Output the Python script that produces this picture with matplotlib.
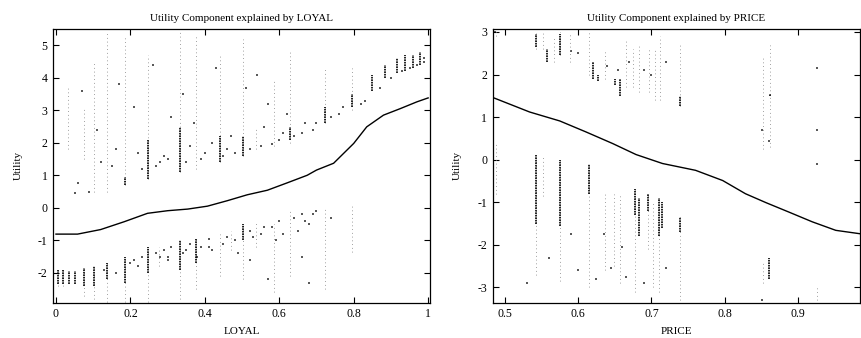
import matplotlib
matplotlib.use("Agg")
import matplotlib.pyplot as plt

plt.rcParams['font.family'] = ['Liberation Serif', 'DejaVu Serif']
plt.rcParams['axes.unicode_minus'] = False

# ---------------- LOYAL panel data ----------------
loyal_curve_x = [0.0, 0.058, 0.12, 0.183, 0.246, 0.30, 0.354, 0.407, 0.461, 0.514,
                 0.568, 0.622, 0.675, 0.70, 0.746, 0.80, 0.835, 0.88, 0.925, 0.97, 1.0]
loyal_curve_y = [-0.81, -0.81, -0.67, -0.43, -0.17, -0.09, -0.04, 0.05, 0.22, 0.40,
                 0.54, 0.77, 1.0, 1.16, 1.37, 1.98, 2.49, 2.85, 3.05, 3.26, 3.38]

# vertical streaks of observations: x, low, high (sparse part)
loyal_sparse_x  = [0.031, 0.076, 0.103, 0.138, 0.185, 0.248, 0.332, 0.375, 0.44, 0.503, 0.537, 0.585, 0.63, 0.724, 0.795,
                   0.005, 0.02, 0.076, 0.103, 0.138, 0.185, 0.248, 0.276, 0.332, 0.375, 0.44, 0.47, 0.503, 0.537, 0.585, 0.63, 0.724, 0.795]
loyal_sparse_lo = [1.8, 1.5, 0.5, 0.5, 0.7, 0.9, 1.1, 1.2, 1.4, 1.6, 1.8, 1.9, 2.0, 2.6, 3.0,
                   -2.4, -2.4, -2.7, -2.8, -2.9, -2.9, -2.9, -1.8, -2.8, -2.5, -2.1, -1.3, -2.2, -1.2, -2.6, -2.1, -2.5, -1.35]
loyal_sparse_hi = [3.7, 3.1, 4.5, 5.4, 5.3, 4.7, 5.4, 5.3, 4.7, 5.2, 2.5, 3.9, 4.8, 4.3, 4.3,
                   -1.9, -1.9, -1.85, -1.8, -1.7, -1.5, -1.2, -1.2, -1.0, -0.95, -0.8, -0.7, -0.5, -0.4, -0.5, -0.1, 0.0, 0.1]
# dense cores
loyal_dense_x  = [0.185, 0.248, 0.332, 0.44, 0.503, 0.63, 0.724, 0.795, 0.849, 0.885, 0.916, 0.938, 0.96, 0.979,
                  0.005, 0.02, 0.035, 0.05, 0.076, 0.103, 0.138, 0.185, 0.248, 0.332, 0.375, 0.503]
loyal_dense_lo = [0.7, 0.9, 1.1, 1.4, 1.6, 2.1, 2.6, 3.1, 3.6, 4.0, 4.15, 4.2, 4.3, 4.4,
                  -2.35, -2.35, -2.35, -2.35, -2.4, -2.4, -2.2, -2.3, -2.0, -1.9, -1.7, -1.0]
loyal_dense_hi = [0.94, 2.1, 2.5, 2.2, 2.2, 2.5, 3.1, 3.5, 4.1, 4.4, 4.6, 4.7, 4.7, 4.8,
                  -1.9, -1.9, -1.95, -1.95, -1.85, -1.8, -1.7, -1.5, -1.2, -1.0, -0.95, -0.5]
# scattered single observations
loyal_pts_x = [0.05, 0.06, 0.09, 0.12, 0.16, 0.21, 0.23, 0.27, 0.29, 0.30, 0.31, 0.35, 0.36, 0.39, 0.40,
               0.42, 0.45, 0.46, 0.48, 0.52, 0.55, 0.56, 0.58, 0.60, 0.61, 0.64, 0.66, 0.67, 0.69, 0.70,
               0.74, 0.76, 0.77, 0.82, 0.83, 0.87, 0.90, 0.93, 0.95, 0.97, 0.99, 0.99,
               0.21, 0.23, 0.27, 0.29, 0.30, 0.31, 0.35, 0.36, 0.39, 0.41, 0.42, 0.46, 0.48, 0.52, 0.55,
               0.56, 0.58, 0.60, 0.61, 0.64, 0.66, 0.67, 0.69, 0.70, 0.74, 0.52, 0.57, 0.66, 0.68,
               0.07, 0.11, 0.15, 0.17, 0.22, 0.26, 0.28, 0.34, 0.37, 0.43, 0.47, 0.51, 0.54, 0.57, 0.62,
               0.13, 0.16, 0.2, 0.22, 0.28, 0.3, 0.34, 0.38, 0.41, 0.45, 0.49, 0.53, 0.59, 0.65, 0.68]
loyal_pts_y = [0.45, 0.75, 0.5, 1.4, 1.8, 3.1, 1.2, 1.3, 1.6, 1.5, 2.8, 1.4, 1.9, 1.5, 1.7,
               2.0, 1.6, 1.8, 1.7, 1.8, 1.9, 2.5, 1.95, 2.1, 2.3, 2.2, 2.3, 2.6, 2.4, 2.6,
               2.8, 2.9, 3.1, 3.2, 3.3, 3.7, 4.0, 4.2, 4.3, 4.4, 4.5, 4.6,
               -1.6, -1.5, -1.4, -1.3, -1.5, -1.2, -1.3, -1.1, -1.2, -0.95, -1.3, -0.9, -1.0, -0.7, -0.8,
               -0.6, -0.6, -0.4, -0.8, -0.3, -0.2, -0.4, -0.2, -0.1, -0.3, -1.6, -2.2, -1.5, -2.3,
               3.6, 2.4, 1.3, 3.8, 1.7, 4.4, 1.4, 3.5, 2.6, 4.3, 2.2, 3.7, 4.1, 3.2, 2.9,
               -1.9, -2.0, -1.7, -1.8, -1.5, -1.6, -1.4, -1.5, -1.2, -1.1, -1.4, -0.9, -1.0, -0.7, -0.5]

# ---------------- PRICE panel data ----------------
price_curve_x = [0.484, 0.534, 0.575, 0.611, 0.647, 0.679, 0.715, 0.76, 0.797, 0.828,
                 0.856, 0.887, 0.919, 0.951, 0.984]
price_curve_y = [1.46, 1.12, 0.91, 0.65, 0.38, 0.12, -0.09, -0.25, -0.49, -0.80,
                 -1.01, -1.23, -1.46, -1.66, -1.74]

price_sparse_x  = [0.488, 0.543, 0.552, 0.567, 0.575, 0.589, 0.615, 0.637, 0.665, 0.675, 0.683, 0.696, 0.705, 0.711, 0.739, 0.852, 0.861,
                   0.488, 0.543, 0.552, 0.575, 0.615, 0.637, 0.649, 0.657, 0.678, 0.695, 0.702, 0.71, 0.739, 0.852, 0.925]
price_sparse_lo = [2.9, 2.6, 2.6, 2.3, 2.45, 2.3, 2.0, 1.9, 1.7, 1.7, 1.6, 1.6, 1.4, 1.4, 1.25, 0.25, 0.3,
                   -0.8, -2.7, -0.85, -2.85, -3.0, -2.6, -2.5, -2.9, -3.1, -2.1, -3.0, -3.1, -3.3, -2.9, -3.3]
price_sparse_hi = [3.05, 3.0, 3.0, 2.9, 3.0, 3.0, 3.0, 2.6, 2.8, 2.6, 2.7, 2.6, 2.6, 2.9, 2.75, 2.4, 2.7,
                   0.4, 0.1, 0.1, 0.0, -0.1, -0.8, -0.8, -0.8, -0.7, -0.8, -1.0, -0.9, -1.35, -2.4, -2.95]
price_dense_x  = [0.543, 0.557, 0.575, 0.62, 0.627, 0.65, 0.657, 0.739, 0.861,
                  0.543, 0.575, 0.615, 0.678, 0.683, 0.695, 0.71, 0.714, 0.739, 0.86]
price_dense_lo = [2.65, 2.3, 2.45, 1.9, 1.85, 1.75, 1.5, 1.25, 1.5,
                  -1.5, -1.55, -0.8, -1.3, -1.8, -1.2, -1.8, -1.6, -1.7, -2.8]
price_dense_hi = [2.95, 2.6, 2.95, 2.3, 2.0, 1.9, 1.9, 1.5, 1.55,
                  0.1, 0.0, -0.1, -0.7, -0.9, -0.8, -0.9, -1.0, -1.35, -2.3]
price_pts_x = [0.487, 0.59, 0.6, 0.64, 0.655, 0.67, 0.69, 0.70, 0.72, 0.85, 0.86, 0.925, 0.925,
               0.53, 0.56, 0.59, 0.60, 0.625, 0.635, 0.645, 0.66, 0.665, 0.69, 0.72, 0.85, 0.925]
price_pts_y = [3.0, 2.55, 2.5, 2.2, 2.1, 2.3, 2.1, 2.0, 2.3, 0.7, 0.45, 2.15, 0.7,
               -2.9, -2.3, -1.75, -2.6, -2.8, -1.75, -2.55, -2.05, -2.75, -2.9, -2.55, -3.3, -0.1]

fig = plt.figure(figsize=(8.61, 3.38), dpi=100)
ax1 = fig.add_axes([53/861, 1 - 302.7/338, (430 - 53)/861, (302.7 - 29)/338])
ax2 = fig.add_axes([492.7/861, 1 - 302.7/338, (860 - 492.7)/861, (302.7 - 29)/338])

def draw(ax, sx, slo, shi, dx, dlo, dhi, px, py, cx, cy):
    ax.vlines(sx, slo, shi, colors='0.5', linewidth=0.6, linestyles=(0, (1, 3.5)))
    ax.vlines(dx, dlo, dhi, colors='black', linewidth=1.2, linestyles=(0, (1, 0.5)))
    ax.scatter(px, py, s=0.8, marker='s', color='0.35', linewidths=0)
    ax.plot(cx, cy, color='black', linewidth=1.0)
    ax.tick_params(direction='in', top=True, right=True, length=4, width=0.8, labelsize=8.5, pad=4)
    for sp in ax.spines.values():
        sp.set_linewidth(0.9)

draw(ax1, loyal_sparse_x, loyal_sparse_lo, loyal_sparse_hi, loyal_dense_x, loyal_dense_lo, loyal_dense_hi,
     loyal_pts_x, loyal_pts_y, loyal_curve_x, loyal_curve_y)
draw(ax2, price_sparse_x, price_sparse_lo, price_sparse_hi, price_dense_x, price_dense_lo, price_dense_hi,
     price_pts_x, price_pts_y, price_curve_x, price_curve_y)

ax1.set_xlim(-0.008, 1.005)
ax1.set_ylim(-2.92, 5.5)
ax1.set_xticks([0, 0.2, 0.4, 0.6, 0.8, 1])
ax1.set_xticklabels(['0', '0.2', '0.4', '0.6', '0.8', '1'])
ax1.set_yticks([-2, -1, 0, 1, 2, 3, 4, 5])
ax1.set_title('Utility Component explained by LOYAL', fontsize=8, pad=6)
ax1.set_xlabel('LOYAL', fontsize=8, labelpad=5)
ax1.set_ylabel('Utility', fontsize=8, labelpad=11)

ax2.set_xlim(0.4837, 0.984)
ax2.set_ylim(-3.36, 3.07)
ax2.set_xticks([0.5, 0.6, 0.7, 0.8, 0.9])
ax2.set_yticks([-3, -2, -1, 0, 1, 2, 3])
ax2.set_title('Utility Component explained by PRICE', fontsize=8, pad=6)
ax2.set_xlabel('PRICE', fontsize=8, labelpad=5)
ax2.set_ylabel('Utility', fontsize=8, labelpad=11)

fig.savefig('out.png', dpi=100)
